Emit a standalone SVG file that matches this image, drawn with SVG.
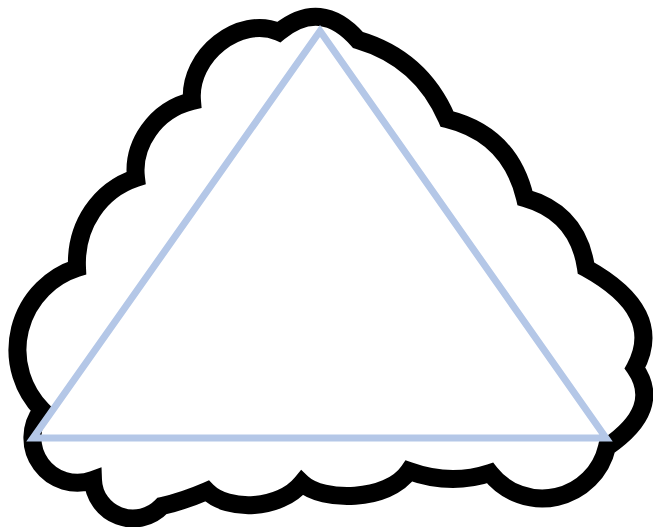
<svg xmlns="http://www.w3.org/2000/svg" width="653" height="527" viewBox="0 0 653 527">
<style>
.cloud{fill:#ffffff;stroke:#000000;stroke-width:18;stroke-linejoin:miter;stroke-miterlimit:6}
.tri{fill:none;stroke:#b4c7e7;stroke-width:7;stroke-linejoin:miter;stroke-miterlimit:10}
</style>
<rect width="653" height="527" fill="#ffffff"/>
<g id="cloud">
<path class="cloud" d="M 279,32 Q 321,-2 358,40 Q 421,58.5 447,119 Q 510,134.5 525,198 Q 578,213 586,268 Q 665.5,312 635,368 Q 663,408.5 607,447 A 66.4 66.4 0 0 1 490,473 Q 450.5,486 409,471 C 388,502 322,502 302,483 C 280,510 228,512 207,491 Q 184,501 162,506 A 40 40 0 0 1 93,480 A 45 45 0 0 1 42,410 A 86 86 0 0 1 77,268 C 75,225 100,190 136,178 C 132,145 155,110 192,101 C 188,55 240,15 279,32 Z"/>
</g>
<g id="triangle">
<polygon class="tri" points="320,31 606,438 33,438"/>
</g>
</svg>
